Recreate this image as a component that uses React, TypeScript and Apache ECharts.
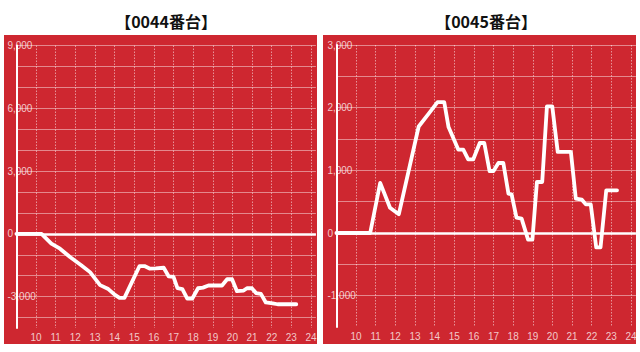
import React, { useEffect, useRef } from 'react';
import * as echarts from 'echarts';

const leftTitle = '【0044番台】';
const rightTitle = '【0045番台】';

const leftHours = [9.0, 10.28, 10.78, 11.22, 11.73, 12.3, 12.75, 13.26, 13.68, 14.02, 14.25, 14.5, 14.85, 15.27, 15.52, 15.78, 16.1, 16.5, 16.75, 17.0, 17.2, 17.45, 17.7, 17.95, 18.25, 18.5, 18.78, 19.47, 19.73, 19.98, 20.23, 20.57, 20.74, 20.99, 21.2, 21.45, 21.7, 22.05, 22.3, 23.25];
const leftValues = [0, 0, -470, -710, -1110, -1500, -1830, -2450, -2640, -2920, -3060, -3060, -2370, -1540, -1540, -1660, -1650, -1620, -2030, -2060, -2600, -2640, -3100, -3100, -2600, -2570, -2470, -2470, -2170, -2170, -2740, -2710, -2600, -2600, -2830, -2870, -3280, -3320, -3365, -3365];

const rightHours = [9.0, 10.72, 11.23, 11.73, 12.18, 13.19, 13.7, 14.15, 14.49, 14.71, 15.21, 15.46, 15.71, 15.97, 16.3, 16.53, 16.8, 17.0, 17.25, 17.5, 17.76, 17.92, 18.17, 18.43, 18.76, 18.98, 19.21, 19.48, 19.72, 19.99, 20.27, 20.94, 21.19, 21.5, 21.7, 21.95, 22.23, 22.45, 22.74, 23.29];
const rightValues = [0, 0, 800, 404, 300, 1700, 1904, 2090, 2090, 1690, 1330, 1330, 1176, 1176, 1436, 1436, 989, 989, 1117, 1117, 628, 617, 245, 229, -106, -106, 814, 814, 2021, 2021, 1293, 1293, 548, 532, 457, 457, -230, -230, 681, 681];

const leftYTicks = [-3000, 0, 3000, 6000, 9000];
const rightYTicks = [-1000, 0, 1000, 2000, 3000];
const hourLabels = [10, 11, 12, 13, 14, 15, 16, 17, 18, 19, 20, 21, 22, 23, 24];

const pair = (h: number[], v: number[]) => h.map((x, i) => [x, v[i]]);

export default function App() {
  const ref = useRef<HTMLDivElement>(null);
  useEffect(() => {
    const chart = echarts.init(ref.current!, null, { renderer: 'svg' });
    const red = '#CE2730';
    const labelColor = 'rgba(255,255,255,0.75)';
    const gridColor = 'rgba(255,255,255,0.45)';
    const fmt = (v: number) => v.toLocaleString('en-US');

    const xAxis = (gridIndex: number) => ({
      type: 'value',
      gridIndex,
      min: 9,
      max: 24.25,
      interval: 1,
      axisLine: { show: false, onZero: false },
      axisTick: { show: false },
      axisLabel: {
        color: labelColor,
        fontSize: 10,
        fontFamily: 'Liberation Sans',
        margin: 4,
        formatter: (v: number) => (hourLabels.includes(v) ? String(v) : ''),
      },
      splitLine: {
        show: true,
        showMaxLine: false,
        lineStyle: { color: 'rgba(255,255,255,0.5)', type: [1.5, 1.5], width: 1 },
      },
    });

    const lineSeries = (idx: number, data: number[][]) => ({
      type: 'line',
      xAxisIndex: idx,
      yAxisIndex: idx,
      data,
      symbol: 'none',
      z: 5,
      lineStyle: { color: '#ffffff', width: 3.8, join: 'round', cap: 'round' },
      markLine: {
        silent: true,
        symbol: ['none', 'none'],
        label: { show: false },
        lineStyle: { color: '#ffffff', width: 2.6, type: 'solid' },
        data: [{ yAxis: 0 }],
      },
    });

    chart.setOption({
      animation: false,
      backgroundColor: '#ffffff',
      graphic: [
        { type: 'rect', z: -10, shape: { x: 4, y: 35, width: 313, height: 309 }, style: { fill: red } },
        { type: 'rect', z: -10, shape: { x: 323, y: 35, width: 313, height: 309 }, style: { fill: red } },
        {
          type: 'text', x: 166, y: 21,
          style: { text: leftTitle, align: 'center', verticalAlign: 'middle', font: 'bold 16px "Noto Sans CJK JP"', fill: '#111111' },
        },
        {
          type: 'text', x: 486, y: 21,
          style: { text: rightTitle, align: 'center', verticalAlign: 'middle', font: 'bold 16px "Noto Sans CJK JP"', fill: '#111111' },
        },
      ],
      grid: [
        { left: 16.4, top: 45.5, width: 299.5, height: 282.5 },
        { left: 336.4, top: 45, width: 299.5, height: 282 },
      ],
      xAxis: [xAxis(0), xAxis(1)],
      yAxis: [
        {
          type: 'value', gridIndex: 0, min: -4500, max: 9000, interval: 500,
          axisLine: { show: true, onZero: false, lineStyle: { color: '#ffffff', width: 2 } },
          axisTick: { show: false },
          axisLabel: {
            color: labelColor, fontSize: 10, fontFamily: 'Liberation Sans', margin: 9, align: 'left',
            formatter: (v: number) => (leftYTicks.includes(v) ? fmt(v) : ''),
          },
          splitLine: { show: true, lineStyle: { color: ['rgba(255,255,255,0)', gridColor], width: 1 } },
        },
        {
          type: 'value', gridIndex: 1, min: -1500, max: 3000, interval: 500,
          axisLine: { show: true, onZero: false, lineStyle: { color: '#ffffff', width: 2 } },
          axisTick: { show: false },
          axisLabel: {
            color: labelColor, fontSize: 10, fontFamily: 'Liberation Sans', margin: 9, align: 'left',
            formatter: (v: number) => (rightYTicks.includes(v) ? fmt(v) : ''),
          },
          splitLine: { show: true, showMinLine: false, lineStyle: { color: gridColor, width: 1 } },
        },
      ],
      series: [lineSeries(0, pair(leftHours, leftValues)), lineSeries(1, pair(rightHours, rightValues))],
    });
    return () => chart.dispose();
  }, []);
  return <div ref={ref} style={{ position: 'fixed', left: 0, top: 0, width: 640, height: 352 }} />;
}
